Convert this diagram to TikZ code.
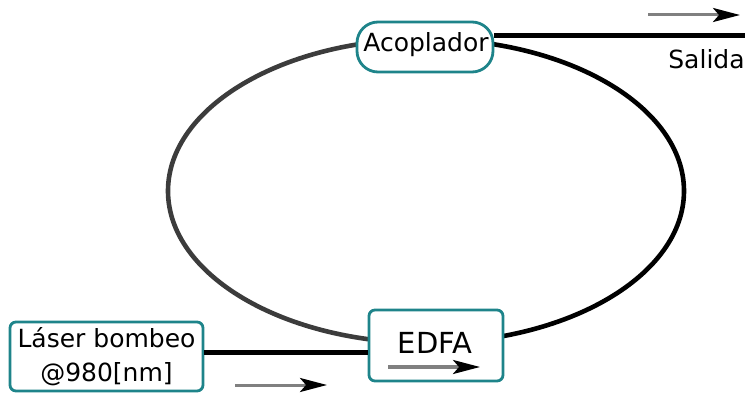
\documentclass[tikz,border=0pt]{standalone}
\usepackage{fontspec}
\setmainfont{DejaVu Sans}
\usetikzlibrary{arrows.meta}
\definecolor{teal1}{RGB}{30,132,138}
\definecolor{arcgray}{RGB}{60,60,60}
\definecolor{shaftgray}{RGB}{128,128,128}
\tikzset{
  box/.style={draw=teal1, line width=2.8pt, fill=white, inner sep=0pt},
  lbl/.style={font=\fontsize{25}{34}\selectfont},
  fiber/.style={line width=5pt, black},
  dirarrow/.style={line width=3pt, shaftgray, -{Stealth[length=27pt,width=14pt,inset=6pt,black]}},
}
\begin{document}
\begin{tikzpicture}[x=1pt,y=1pt]
\useasboundingbox (0,0) rectangle (745,394);
% ring
\draw[line width=4.6pt, arcgray] (426,355) arc[start angle=90, end angle=270, x radius=258pt, y radius=152pt];
\draw[line width=4.6pt, black] (426,51) arc[start angle=-90, end angle=90, x radius=258pt, y radius=152pt];
% nodes
\node[box, rounded corners=21pt, minimum width=136pt, minimum height=50pt] (acop) at (425,347) {};
\node[lbl, anchor=base] (acopt) at (426,342) {Acoplador};
\node[box, rounded corners=6pt, minimum width=134pt, minimum height=71pt] (edfa) at (436,48.5) {};
\node[lbl, font=\fontsize{29}{34}\selectfont, anchor=base] (edfat) at (435,41) {EDFA};
\node[box, lbl, rounded corners=6pt, minimum width=193pt, minimum height=69pt, align=center] (laser) at (106.5,37.5) {Láser bombeo\\@980[nm]};
\node[lbl, anchor=base] (salida) at (706.5,325) {Salida};
% connectors
\coordinate (out) at (745,358);
\draw[fiber] (acop.east |- out) -- (out);
\coordinate (pl) at (0,41);
\draw[fiber] (laser.east |- pl) -- (edfa.west |- pl);
% direction arrows
\coordinate (a1s) at (648,379); \coordinate (a1e) at (740,379);
\coordinate (a2s) at (235,9);   \coordinate (a2e) at (327,9);
\coordinate (a3s) at (388,27);  \coordinate (a3e) at (480,27);
\draw[dirarrow] (a1s) -- (a1e);
\draw[dirarrow] (a2s) -- (a2e);
\draw[dirarrow] (a3s) -- (a3e);
\end{tikzpicture}
\end{document}
